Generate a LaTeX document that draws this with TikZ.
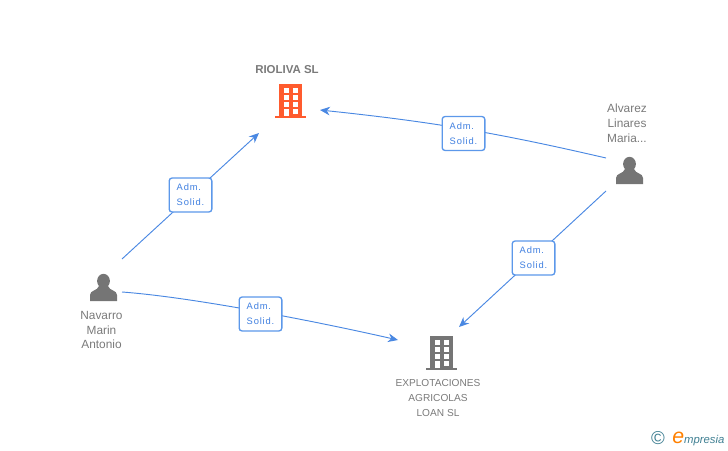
\documentclass[tikz,border=0pt]{standalone}
\usepackage{fontspec}
\setmainfont{Liberation Sans}
\usetikzlibrary{arrows.meta}
\definecolor{linkblue}{HTML}{4A88E2}
\definecolor{boxblue}{HTML}{5C98EA}
\definecolor{roleblue}{HTML}{3F7FE0}
\definecolor{icongray}{HTML}{757575}
\definecolor{textgray}{HTML}{7A7A7A}
\definecolor{iconorange}{HTML}{FF5B2E}
\definecolor{logoteal}{HTML}{3F7F92}
\tikzstyle{arrow} = [linkblue, line width=.7pt, -{Stealth[length=7.5pt,width=6.5pt]}]
\tikzstyle{role} = [draw=boxblue, line width=1pt, rounded corners=2.2pt, fill=white, minimum width=32pt, minimum height=25.5pt, inner sep=0pt, text=roleblue, font=\fontsize{7}{11.2}\selectfont\addfontfeature{LetterSpace=9}, align=left]
\tikzstyle{entity} = [text=textgray, font=\fontsize{8.9}{11.2}\selectfont, align=center, inner sep=0pt]
\tikzstyle{company} = [text=textgray, font=\fontsize{7.6}{11.2}\selectfont, align=center, inner sep=0pt]
\tikzset{
    person/.pic={
        \fill [icongray] (0,-7) ellipse (6.4 and 7.2);
        \fill [icongray] (-13.5,13) -- (-13.5,7) .. controls (-13.5,2) and (-6,3) .. (-4.5,-2) -- (4.5,-2) .. controls (6,3) and (13.5,2) .. (13.5,7) -- (13.5,13) -- cycle;
    },
    building/.pic={
        \fill [pic actions] (-11.5,-17) rectangle (11.5,15);
        \fill [pic actions] (-15.5,15) rectangle (15.5,17);
        \foreach \y in {-13,-6,1} {
            \fill [white] (-6.5,\y) rectangle (-1.5,\y+4.5);
            \fill [white] (2.5,\y) rectangle (7.5,\y+4.5);
        }
        \fill [white] (-6.5,8) rectangle (-1.5,15);
        \fill [white] (2.5,8) rectangle (7.5,12.5);
    }
}
\begin{document}
\begin{tikzpicture}[x=.75pt,y=-.75pt]
    \useasboundingbox (0,0) rectangle (728,450);

    \pic at (103.5,288) {person};
    \pic at (629.5,171) {person};
    \pic [fill=iconorange] at (290.5,101) {building};
    \pic [fill=icongray] at (441,353) {building};

    \node [entity, font=\fontsize{8.6}{11.2}\bfseries] at (287,70) (rioliva) {RIOLIVA SL};
    \node [entity] at (627,123) (alvarez) {Alvarez\\Linares\\Maria...};
    \node [entity] at (101.5,330) (navarro) {Navarro\\Marin\\Antonio};
    \node [company] at (438,398) (explotaciones) {EXPLOTACIONES\\AGRICOLAS\\LOAN SL};

    \coordinate (navarroup) at (122,259);
    \coordinate (navarroright) at (122,292);
    \coordinate (alvarezleft) at (606,158);
    \coordinate (alvarezdown) at (606,191);
    \coordinate (riolivaleft) at (259,133);
    \coordinate (riolivaright) at (320,110);
    \coordinate (loanleft) at (398,340);
    \coordinate (loanup) at (459,327);

    \draw [arrow] (navarroup) -- (riolivaleft);
    \draw [arrow] (alvarezleft) to[bend right=3.5] (riolivaright);
    \draw [arrow] (alvarezdown) -- (loanup);
    \draw [arrow] (navarroright) .. controls (190,297) and (310,320) .. (loanleft);

    \node [role] at (190.5,195) (role1) {Adm.\\Solid.};
    \node [role] at (463.5,133.5) (role2) {Adm.\\Solid.};
    \node [role] at (533.5,258) (role3) {Adm.\\Solid.};
    \node [role] at (260.5,314) (role4) {Adm.\\Solid.};

    \node [text=logoteal, font=\fontsize{14}{14}\selectfont, inner sep=0pt] at (658,438.5) (copyright) {©};
    \node [text=logoteal, font=\fontsize{8.5}{12}\itshape, inner sep=0pt, anchor=west] at (672,439) (logo) {\textcolor{orange}{\fontsize{16}{12}\selectfont e}mpresia};
\end{tikzpicture}
\end{document}
